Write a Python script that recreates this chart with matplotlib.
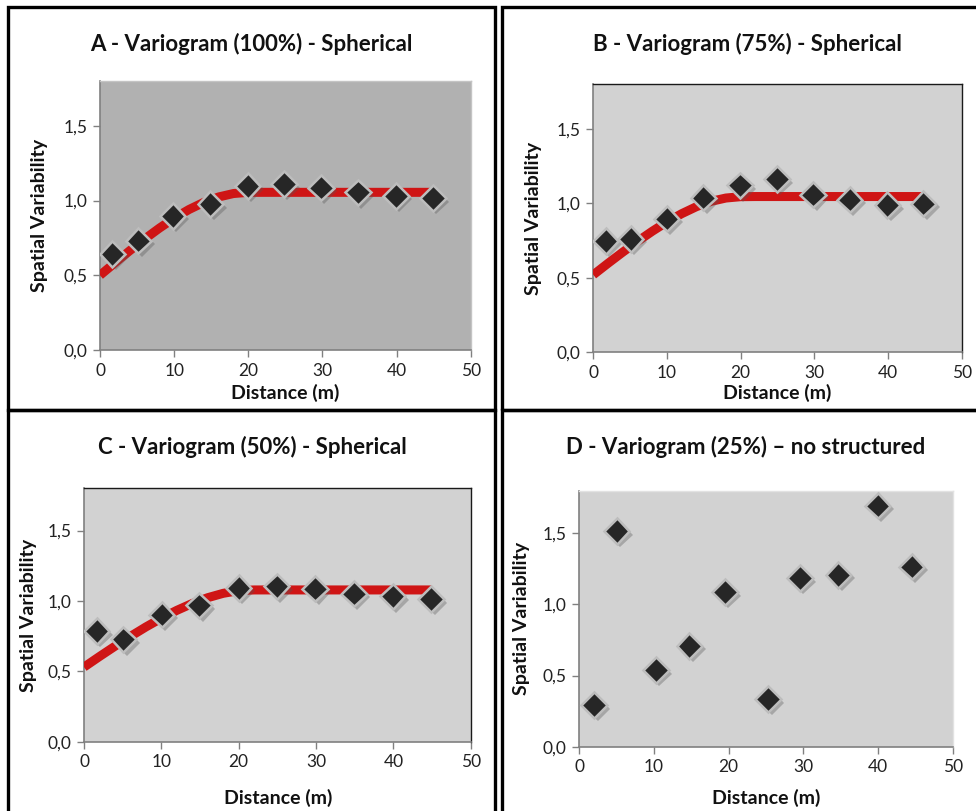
import matplotlib
matplotlib.use("Agg")
import matplotlib.pyplot as plt
import matplotlib.patheffects as pe
from matplotlib.patches import Rectangle
from matplotlib.ticker import FuncFormatter

plt.rcParams['font.family'] = ['Lato', 'DejaVu Sans']

# ---------------- data ----------------
titles = ["A - Variogram (100%) - Spherical",
          "B - Variogram (75%) - Spherical",
          "C - Variogram (50%) - Spherical",
          "D - Variogram (25%) \u2013 no structured"]

# experimental variogram points
xA = [1.66, 5.17, 9.8, 14.9, 19.9, 24.8, 29.8, 34.8, 39.9, 44.9]
yA = [0.643, 0.732, 0.897, 0.976, 1.098, 1.110, 1.087, 1.054, 1.031, 1.016]

xB = [1.68, 5.07, 9.96, 14.93, 19.9, 24.9, 29.85, 34.8, 39.9, 44.8]
yB = [0.748, 0.761, 0.897, 1.038, 1.120, 1.161, 1.058, 1.025, 0.987, 0.998]

xC = [1.64, 5.09, 10.05, 14.9, 20.0, 24.9, 29.9, 34.9, 39.9, 44.9]
yC = [0.785, 0.726, 0.903, 0.969, 1.092, 1.104, 1.088, 1.052, 1.033, 1.012]

xD = [2.0, 5.0, 10.27, 14.73, 19.5, 25.3, 29.55, 34.68, 39.95, 44.5]
yD = [0.292, 1.515, 0.538, 0.708, 1.087, 0.334, 1.185, 1.209, 1.695, 1.267]

# fitted spherical model curves
curve_x = [0, 2, 4, 6, 8, 10, 12, 14, 16, 18, 20, 22, 24, 45]
curveA = [0.50, 0.583, 0.664, 0.742, 0.815, 0.882, 0.940, 0.988, 1.024, 1.047, 1.055, 1.055, 1.055, 1.055]
curveB = [0.52, 0.597, 0.672, 0.744, 0.812, 0.875, 0.930, 0.977, 1.013, 1.035, 1.044, 1.045, 1.045, 1.045]
curveC = [0.53, 0.605, 0.678, 0.748, 0.815, 0.877, 0.933, 0.982, 1.023, 1.054, 1.073, 1.078, 1.078, 1.078]

x_ticks = [0, 10, 20, 30, 40, 50]
y_ticks = [0.0, 0.5, 1.0, 1.5]

W, H = 976, 811
fig = plt.figure(figsize=(W / 100, H / 100), dpi=100)


def fx(px):
    return px / W


def fy(py):
    return 1 - py / H


# panel frames
frame_kw = dict(fill=False, edgecolor='black', linewidth=2.4,
                transform=fig.transFigure, figure=fig)
for (x0, y0, x1, y1) in [(8, 7, 495, 410), (502, 7, 990, 410),
                         (8, 410, 495, 830), (502, 410, 990, 830)]:
    fig.patches.append(Rectangle((fx(x0), fy(y1)), fx(x1) - fx(x0),
                                 fy(y0) - fy(y1), **frame_kw))

panels = [
    dict(box=(100, 81, 470.7, 350), x=xA, y=yA, curve=curveA, bg='#b1b1b1',
         tr='#c4c4c4', title=(251, 44), ylab=(40, 215), xlab=(285, 393)),
    dict(box=(593.3, 84, 961.7, 352.3), x=xB, y=yB, curve=curveB, bg='#d2d2d2',
         tr='#1a1a1a', title=(747, 44), ylab=(534, 218), xlab=(777, 393)),
    dict(box=(84, 488.3, 470.7, 741.7), x=xC, y=yC, curve=curveC, bg='#d2d2d2',
         tr='#1a1a1a', title=(252, 447), ylab=(29, 615), xlab=(278, 798)),
    dict(box=(579.3, 490.7, 952.7, 746.7), x=xD, y=yD, curve=None, bg='#d2d2d2',
         tr='#e2e2e2', title=(746, 447), ylab=(522, 618), xlab=(766, 798)),
]

fmt = FuncFormatter(lambda v, p: f"{v:.1f}".replace('.', ','))

for i, p in enumerate(panels):
    l, t, r, b = p['box']
    ax = fig.add_axes([fx(l), fy(b), fx(r) - fx(l), fy(t) - fy(b)])
    ax.set_facecolor(p['bg'])
    ax.set_xlim(0, 50)
    ax.set_ylim(0, 1.8)
    ax.set_xticks(x_ticks)
    ax.set_yticks(y_ticks)
    ax.yaxis.set_major_formatter(fmt)
    ax.tick_params(direction='out', length=5, width=1, color='#808080',
                   labelsize=12.5, labelcolor='#222222', pad=4)
    for s in ['left', 'bottom']:
        ax.spines[s].set_color('#808080')
        ax.spines[s].set_linewidth(1.2)
    for s in ['top', 'right']:
        ax.spines[s].set_color(p['tr'])
        ax.spines[s].set_linewidth(1.0)

    if p['curve'] is not None:
        ax.plot(curve_x, p['curve'], color='#cf1515', linewidth=6.5,
                solid_capstyle='butt', zorder=3)
    ax.plot(p['x'], p['y'], linestyle='none', marker='D', markersize=13,
            markerfacecolor='#262626', markeredgecolor='#bdbdbd',
            markeredgewidth=1.8, zorder=4,
            path_effects=[pe.SimplePatchShadow(offset=(2.5, -2.5),
                                               shadow_rgbFace='#555555',
                                               alpha=0.35),
                          pe.Normal()])

    fig.text(fx(p['title'][0]), fy(p['title'][1]), titles[i], ha='center',
             va='center', fontsize=16, fontweight='bold', color='#111111')
    fig.text(fx(p['ylab'][0]), fy(p['ylab'][1]), "Spatial Variability",
             ha='center', va='center', rotation=90, fontsize=14,
             fontweight='bold', color='#111111')
    fig.text(fx(p['xlab'][0]), fy(p['xlab'][1]), "Distance (m)", ha='center',
             va='center', fontsize=14, fontweight='bold', color='#111111')

fig.savefig("out.png", dpi=100)
